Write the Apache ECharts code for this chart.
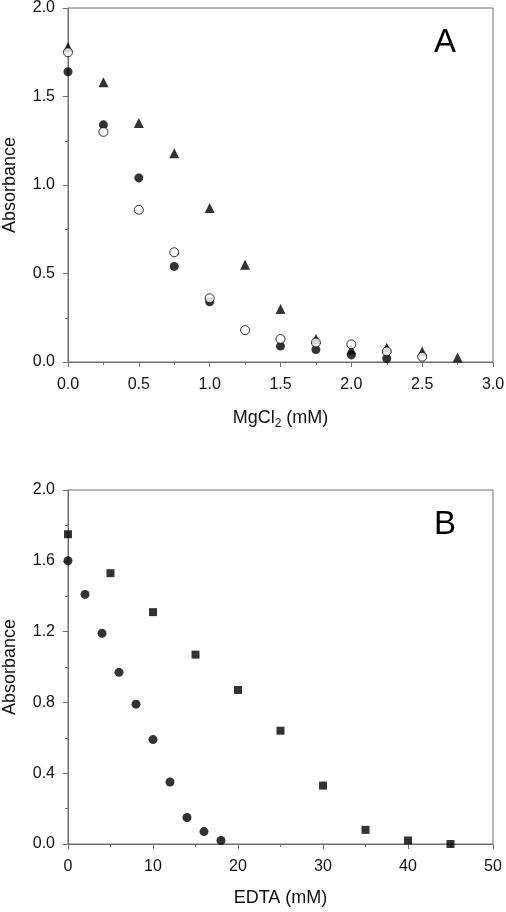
<!DOCTYPE html>
<html>
<head>
<meta charset="utf-8">
<script src="https://cdn.jsdelivr.net/npm/echarts@6/dist/echarts.min.js"></script>
<style>
html,body{margin:0;padding:0;background:#fff;}
#chart{width:506px;height:912px;}
</style>
</head>
<body>
<div id="chart"></div>
<script>
// Panel A: MgCl2 titration
const mgX = [0, 0.25, 0.5, 0.75, 1.0, 1.25, 1.5, 1.75, 2.0, 2.25, 2.5, 2.75];
const aFilled = [[0,1.64],[0.25,1.34],[0.5,1.04],[0.75,0.54],[1.0,0.34],[1.5,0.09],[1.75,0.07],[2.0,0.04],[2.25,0.02]];
const aOpen = [[0,1.75],[0.25,1.30],[0.5,0.86],[0.75,0.62],[1.0,0.36],[1.25,0.18],[1.5,0.13],[1.75,0.11],[2.0,0.10],[2.25,0.06],[2.5,0.03]];
const aTriangle = [[0,1.78],[0.25,1.58],[0.5,1.35],[0.75,1.18],[1.0,0.87],[1.25,0.55],[1.5,0.30],[1.75,0.13],[2.0,0.07],[2.25,0.08],[2.5,0.06],[2.75,0.025]];
// Panel B: EDTA titration
const bCircle = [[0,1.60],[2,1.41],[4,1.19],[6,0.97],[8,0.79],[10,0.59],[12,0.35],[14,0.15],[16,0.07],[18,0.02]];
const bSquare = [[0,1.75],[5,1.53],[10,1.31],[15,1.07],[20,0.87],[25,0.64],[30,0.33],[35,0.08],[40,0.02],[45,0.0]];
const panelLabels = ['A', 'B'];
const xTitleA = 'MgCl{sub|2} (mM)';
const xTitleB = 'EDTA (mM)';
const yTitle = 'Absorbance';

const FONT = 'Liberation Sans, Arial, sans-serif';
const AX = '#6e6e6e';
const TXT = '#111';
const chart = echarts.init(document.getElementById('chart'), null, {renderer:'canvas'});

function xAxis(gi, min, max, interval, fmt, name) {
  return {
    type:'value', gridIndex:gi, min:min, max:max, interval:interval,
    name:name, nameLocation:'middle', nameGap:45,
    nameTextStyle:{fontFamily:FONT, fontSize:18, color:TXT, rich:{sub:{fontFamily:FONT,fontSize:12,color:TXT,verticalAlign:'bottom',padding:[11,0,0,0]}}},
    axisLine:{show:true, onZero:false, lineStyle:{color:AX, width:1}},
    axisTick:{show:true, inside:false, length:5, lineStyle:{color:AX}},
    minorTick:{show:true, splitNumber:2, length:3, lineStyle:{color:AX}},
    axisLabel:{fontFamily:FONT, fontSize:16, color:TXT, margin:15, formatter:fmt},
    splitLine:{show:false}
  };
}
function yAxis(gi, min, max, interval) {
  return {
    type:'value', gridIndex:gi, min:min, max:max, interval:interval,
    name:yTitle, nameLocation:'middle', nameGap:49,
    nameTextStyle:{fontFamily:FONT, fontSize:18, color:TXT},
    axisLine:{show:true, onZero:false, lineStyle:{color:AX, width:1}},
    axisTick:{show:true, inside:false, length:5, lineStyle:{color:AX}},
    minorTick:{show:true, splitNumber:2, length:3, lineStyle:{color:AX}},
    axisLabel:{fontFamily:FONT, fontSize:16, color:TXT, margin:13, formatter:v=>v.toFixed(1)},
    splitLine:{show:false}
  };
}

const option = {
  animation:false,
  backgroundColor:'#fff',
  grid:[
    {left:68, right:13, top:8, height:354, containLabel:false, outerBoundsMode:'none', show:true, borderColor:AX, borderWidth:1, backgroundColor:'transparent'},
    {left:68, right:13, top:490, height:354, containLabel:false, outerBoundsMode:'none', show:true, borderColor:AX, borderWidth:1, backgroundColor:'transparent'}
  ],
  xAxis:[
    xAxis(0, 0, 3, 0.5, v=>v.toFixed(1), xTitleA),
    xAxis(1, 0, 50, 10, v=>String(v), xTitleB)
  ],
  yAxis:[
    yAxis(0, 0, 2, 0.5),
    yAxis(1, 0, 2, 0.4)
  ],
  graphic:[
    {type:'text', left:434, top:26, style:{text:panelLabels[0], font:'33px '+FONT, fill:'#000'}},
    {type:'text', left:434, top:508, style:{text:panelLabels[1], font:'33px '+FONT, fill:'#000'}}
  ],
  series:[
    {type:'scatter', xAxisIndex:0, yAxisIndex:0, data:aTriangle, symbol:'triangle', symbolSize:10, itemStyle:{color:'#000'}, z:2},
    {type:'scatter', xAxisIndex:0, yAxisIndex:0, data:aFilled, symbol:'circle', symbolSize:9, itemStyle:{color:'#000'}, z:3},
    {type:'scatter', xAxisIndex:0, yAxisIndex:0, data:aOpen, symbol:'circle', symbolSize:9, itemStyle:{color:'#fff', borderColor:'#000', borderWidth:1}, z:4},
    {type:'scatter', xAxisIndex:1, yAxisIndex:1, data:bCircle, symbol:'circle', symbolSize:9, itemStyle:{color:'#000'}, z:3},
    {type:'scatter', xAxisIndex:1, yAxisIndex:1, data:bSquare, symbol:'rect', symbolSize:8, itemStyle:{color:'#000'}, z:3}
  ]
};
chart.setOption(option);
</script>
</body>
</html>
